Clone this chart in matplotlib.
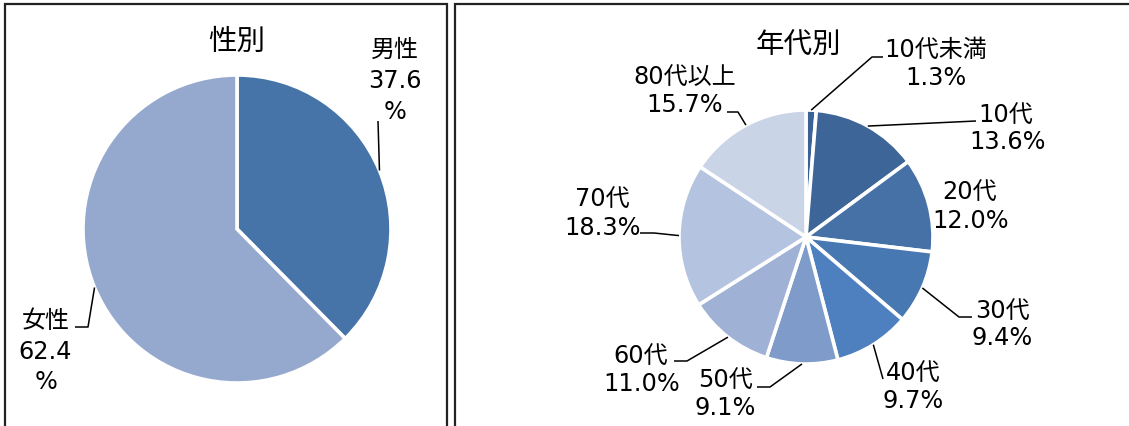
import numpy as np
import matplotlib
matplotlib.use("Agg")
import matplotlib.pyplot as plt
from matplotlib.patches import Rectangle

plt.rcParams['font.family'] = ['DejaVu Sans', 'Noto Sans CJK JP']

# ---- data ----
gender_title = "性別"
gender_labels = ["男性", "女性"]
gender_values = [37.6, 62.4]
gender_colors = ["#4674A9", "#95A9CF"]

age_title = "年代別"
age_labels = ["10代未満", "10代", "20代", "30代", "40代", "50代", "60代", "70代", "80代以上"]
age_values = [1.3, 13.6, 12.0, 9.4, 9.7, 9.1, 11.0, 18.3, 15.7]
age_colors = ["#3B6296", "#3D6597", "#4571A7", "#4878B2", "#4E80BF",
              "#7E9BCA", "#9FB2D5", "#B4C3E0", "#CAD4E7"]

W, H = 1129, 427
fig = plt.figure(figsize=(W / 100, H / 100), dpi=100)
ax = fig.add_axes([0, 0, 1, 1])

def Y(y):
    return H - y

# boxes
ax.add_patch(Rectangle((5, Y(440)), 442, 435, fill=False, lw=1.6, ec="#222222"))
ax.add_patch(Rectangle((455, Y(440)), 700, 435, fill=False, lw=1.6, ec="#222222"))

def mid_point(vals, i, cx, cy, r):
    tot = sum(vals)
    frac = (sum(vals[:i]) + vals[i] / 2) / tot
    a = 2 * np.pi * frac
    return cx + r * np.sin(a), cy - r * np.cos(a)

FS = 17.3
TFS = 20.5
wp = dict(edgecolor="white", linewidth=2.6)

# ---- left pie ----
lcx, lcy, lr = 237, 230, 154
ax.pie(gender_values, colors=gender_colors, startangle=90, counterclock=False,
       center=(lcx, Y(lcy)), radius=lr, wedgeprops=wp, frame=True)
ax.text(237, Y(42), gender_title, ha="center", va="center", fontsize=TFS)

# label layout (layout positions only)
g_lines = [[(395, 50), (395, 81), (395, 112)], [(46, 321), (45, 352), (46, 382)]]
g_leaders = [[(378, 122)], [(88, 328), (75, 328)]]
for i, lab in enumerate(gender_labels):
    texts = [lab, f"{gender_values[i]}", "%"]
    for t, (x, y) in zip(texts, g_lines[i]):
        ax.text(x, Y(y), t, ha="center", va="center", fontsize=FS)
    sx, sy = mid_point(gender_values, i, lcx, lcy, lr)
    pts = [(sx, sy)] + g_leaders[i]
    ax.plot([p[0] for p in pts], [Y(p[1]) for p in pts], color="black", lw=1.1,
            solid_capstyle="butt")

# ---- right pie ----
rcx, rcy, rr = 806, 238, 127
ax.pie(age_values, colors=age_colors, startangle=90, counterclock=False,
       center=(rcx, Y(rcy)), radius=rr, wedgeprops=wp, frame=True)
ax.text(798, Y(45), age_title, ha="center", va="center", fontsize=TFS)

a_lines = [[(936, 50), (936, 78)],
           [(1006, 115), (1008, 142)],
           [(970, 192), (971, 221)],
           [(1002, 311), (1002, 338)],
           [(913, 373), (913, 401)],
           [(725, 380), (725, 408)],
           [(641, 356), (642, 384)],
           [(602, 199), (603, 228)],
           [(685, 77), (685, 105)]]
a_leaders = [[(872, 58), (883, 58)],
             [(976, 122)],
             None,
             [(959, 318), (972, 318)],
             [(883, 380)],
             [(770, 388), (757, 388)],
             [(687, 362), (674, 362)],
             [(654, 234), (640, 234)],
             [(738, 113), (727, 113)]]
for i, lab in enumerate(age_labels):
    texts = [lab, f"{age_values[i]:.1f}%"]
    for t, (x, y) in zip(texts, a_lines[i]):
        ax.text(x, Y(y), t, ha="center", va="center", fontsize=FS)
    if a_leaders[i] is not None:
        sx, sy = mid_point(age_values, i, rcx, rcy, rr)
        pts = [(sx, sy)] + a_leaders[i]
        ax.plot([p[0] for p in pts], [Y(p[1]) for p in pts], color="black", lw=1.1,
                solid_capstyle="butt")

ax.set_xlim(0, W)
ax.set_ylim(0, H)
ax.set_aspect("auto")
ax.axis("off")

fig.savefig("out.png", dpi=100, facecolor="white")
